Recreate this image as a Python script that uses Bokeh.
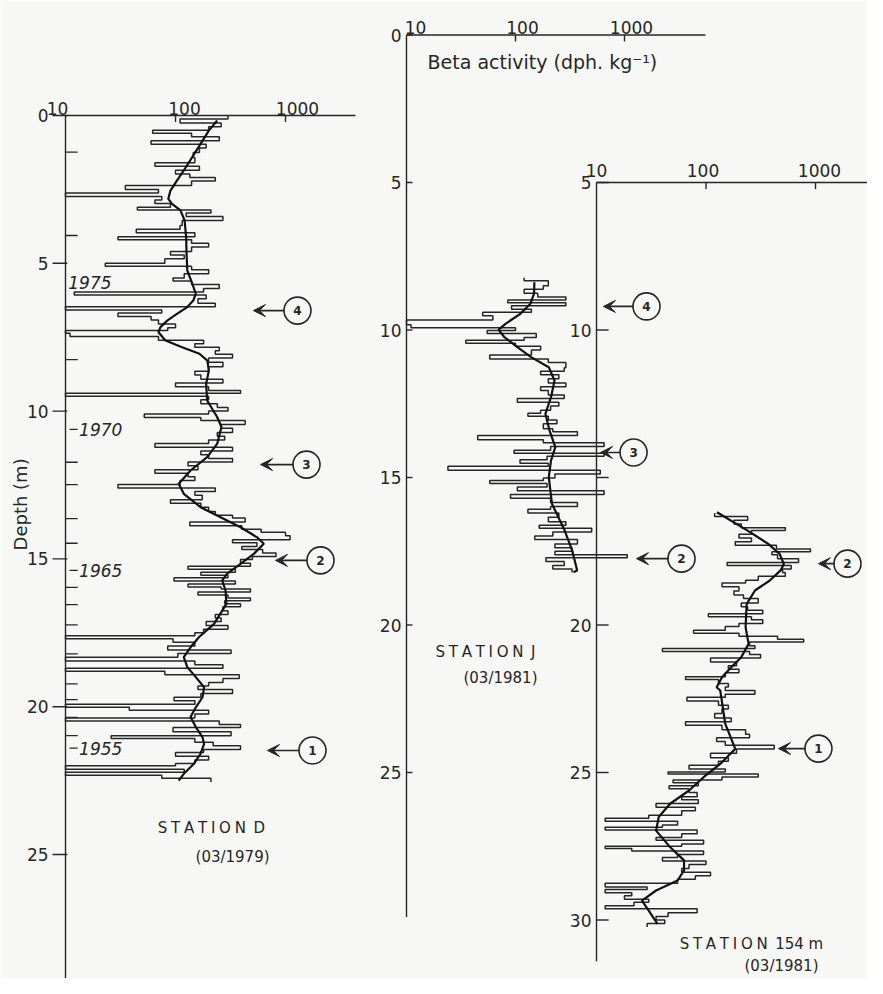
import numpy as np
from bokeh.plotting import figure
from bokeh.models import Range1d, LogScale, LinearScale, ColumnDataSource, Arrow, VeeHead
from bokeh.core.properties import value
from bokeh.embed import file_html
from bokeh.resources import INLINE

# ---------------- data ----------------
# Station D (03/1979): sample top depth (m) and beta activity (dph/kg)
d_top = [0.00, 0.12, 0.25, 0.38, 0.50, 0.60, 0.72, 0.85, 0.97, 1.10, 1.25, 1.42, 1.60, 1.72, 1.85, 1.98,
         2.10, 2.22, 2.37, 2.50, 2.62, 2.74, 2.86, 2.98, 3.10, 3.20, 3.30, 3.42, 3.55, 3.72, 3.85, 3.97,
         4.10, 4.20, 4.32, 4.45, 4.60, 4.72, 4.85, 5.00, 5.10, 5.22, 5.35, 5.50, 5.60, 5.72, 5.85, 5.97,
         6.07, 6.20, 6.35, 6.47, 6.58, 6.68, 6.80, 6.92, 7.05, 7.18, 7.27, 7.37, 7.48, 7.60, 7.72, 7.84,
         7.96, 8.08, 8.20, 8.35, 8.50, 8.65, 8.78, 8.92, 9.05, 9.18, 9.30, 9.40, 9.50, 9.62, 9.75, 9.88,
         10.00, 10.10, 10.22, 10.32, 10.45, 10.58, 10.72, 10.85, 10.98, 11.10, 11.22, 11.35, 11.48, 11.60,
         11.72, 11.85, 11.98, 12.10, 12.22, 12.35, 12.48, 12.60, 12.72, 12.85, 13.00, 13.12, 13.25, 13.40,
         13.52, 13.62, 13.75, 13.88, 14.00, 14.10, 14.22, 14.35, 14.45, 14.58, 14.68, 14.80, 14.92, 15.02,
         15.15, 15.25, 15.35, 15.45, 15.55, 15.64, 15.75, 15.85, 15.95, 16.02, 16.12, 16.22, 16.32, 16.42,
         16.52, 16.62, 16.75, 16.88, 17.00, 17.12, 17.25, 17.38, 17.50, 17.60, 17.70, 17.82, 17.95, 18.08,
         18.20, 18.33, 18.45, 18.58, 18.70, 18.80, 18.92, 19.05, 19.18, 19.30, 19.42, 19.55, 19.68, 19.80,
         19.92, 20.02, 20.12, 20.25, 20.38, 20.48, 20.60, 20.70, 20.85, 20.98, 21.08, 21.20, 21.32, 21.45,
         21.55, 21.68, 21.80, 21.92, 22.00, 22.12, 22.22, 22.32, 22.42]
d_beta = [300, 110, 260, 200, 62, 140, 250, 60, 190, 165, 145, 150, 65, 165, 100, 135,
          230, 140, 35, 70, 10, 75, 65, 90, 45, 210, 125, 270, 115, 110, 44, 150,
          30, 140, 200, 140, 90, 120, 80, 23, 140, 200, 120, 95, 140, 250, 180, 12,
          190, 160, 230, 10, 75, 30, 60, 70, 100, 85, 10, 11, 70, 180, 150, 250,
          230, 330, 200, 270, 200, 150, 170, 270, 100, 200, 390, 10, 200, 170, 240, 300,
          200, 52, 170, 430, 260, 330, 240, 280, 200, 65, 330, 170, 200, 330,
          130, 160, 65, 130, 150, 110, 30, 230, 150, 175, 90, 170, 200, 230,
          330, 430, 135, 400, 600, 1000, 1100, 330, 550, 400, 620, 820, 500, 390,
          480, 130, 350, 170, 300, 97, 350, 130, 260, 480, 160, 300, 480, 280,
          390, 270, 300, 230, 260, 190, 300, 180, 150, 10, 95, 150, 85, 320,
          105, 10, 150, 270, 10, 80, 380, 270, 200, 160, 330, 170, 97, 150,
          10, 38, 200, 150, 10, 250, 390, 95, 320, 26, 150, 220, 390, 180,
          100, 200, 150, 100, 10, 120, 10, 75, 210]
d_bottom = 22.55
d_fit_depth = [0.17, 0.51, 0.96, 1.41, 1.86, 2.20, 2.54, 2.82, 2.99, 3.21, 3.55, 4.12, 4.68, 5.24, 5.69,
               6.03, 6.26, 6.48, 6.71, 6.94, 7.16, 7.33, 7.61, 7.84, 8.06, 8.29, 8.63, 9.08, 9.64, 10.20,
               10.54, 11.11, 11.56, 12.01, 12.46, 12.80, 13.25, 13.59, 13.93, 14.27, 14.49, 14.83, 15.17,
               15.50, 15.73, 16.07, 16.52, 16.75, 17.20, 17.65, 17.99, 18.32, 18.66, 19.00, 19.34, 19.68,
               20.02, 20.35, 20.69, 21.03, 21.26, 21.59, 21.93, 22.27, 22.50]
d_fit_beta = [239, 201, 169, 142, 119, 103, 90, 86, 93, 111, 121, 125, 126, 128, 142,
              153, 145, 128, 103, 84, 73, 70, 81, 115, 165, 195, 201, 190, 194, 239,
              262, 239, 194, 137, 107, 119, 169, 257, 390, 552, 635, 515, 390,
              295, 266, 285, 290, 266, 224, 163, 137, 119, 128, 153, 182, 176,
              153, 137, 153, 176, 182, 169, 147, 119, 107]

# Station J (03/1981)
j_top = [8.23, 8.33, 8.50, 8.62, 8.75, 8.88, 8.98, 9.08, 9.18, 9.30, 9.40, 9.52, 9.66, 9.82, 9.92,
         10.02, 10.12, 10.25, 10.35, 10.45, 10.55, 10.68, 10.85, 10.98, 11.10, 11.28, 11.40, 11.52,
         11.65, 11.80, 11.92, 12.05, 12.20, 12.32, 12.45, 12.58, 12.72, 12.82, 12.92, 13.05, 13.18,
         13.35, 13.45, 13.58, 13.72, 13.82, 13.95, 14.08, 14.18, 14.28, 14.40, 14.52, 14.62, 14.75,
         14.88, 15.02, 15.10, 15.20, 15.32, 15.45, 15.58, 15.70, 15.85, 15.98, 16.08, 16.20, 16.35,
         16.50, 16.62, 16.72, 16.85, 16.98, 17.10, 17.25, 17.38, 17.50, 17.62, 17.72, 17.85, 17.98, 18.10]
j_beta = [120, 200, 180, 120, 160, 290, 85, 290, 92, 140, 50, 62, 10, 11, 100,
          55, 155, 120, 35, 100, 170, 140, 58, 200, 290, 280, 170, 250,
          200, 290, 170, 200, 280, 104, 250, 210, 170, 130, 200, 240, 180,
          220, 370, 45, 180, 650, 210, 97, 650, 195, 110, 200, 24, 600,
          230, 180, 58, 195, 104, 650, 90, 210, 370, 210, 130, 250, 200,
          290, 165, 500, 220, 150, 370, 230, 330, 230, 1060, 190, 280, 220, 330]
j_bottom = 18.22
j_fit_depth = [8.38, 8.77, 9.11, 9.45, 9.79, 9.99, 10.24, 10.58, 10.92, 11.26, 11.71, 12.27, 12.84,
               13.40, 13.97, 14.42, 14.99, 15.89, 16.79, 17.47, 18.15, 18.21]
j_fit_beta = [149, 148, 137, 111, 81, 70, 79, 104, 139, 202, 228, 212, 188,
              205, 232, 212, 202, 216, 282, 331, 368, 340]

# Station 154 m (03/1981)
s_top = [16.20, 16.32, 16.45, 16.58, 16.70, 16.80, 16.92, 17.05, 17.18, 17.30, 17.42, 17.52, 17.62,
         17.75, 17.88, 17.98, 18.10, 18.22, 18.35, 18.48, 18.58, 18.70, 18.85, 18.98, 19.10, 19.25,
         19.38, 19.50, 19.62, 19.72, 19.82, 19.95, 20.05, 20.18, 20.28, 20.38, 20.48, 20.58, 20.70,
         20.80, 20.90, 21.00, 21.12, 21.25, 21.38, 21.50, 21.62, 21.75, 21.85, 21.98, 22.10, 22.22,
         22.35, 22.45, 22.58, 22.72, 22.85, 23.00, 23.15, 23.28, 23.40, 23.55, 23.70, 23.82, 23.95,
         24.08, 24.20, 24.35, 24.50, 24.62, 24.75, 24.88, 24.98, 25.05, 25.15, 25.25, 25.35, 25.45,
         25.55, 25.68, 25.82, 25.92, 26.05, 26.18, 26.30, 26.45, 26.55, 26.65, 26.78, 26.86, 26.95,
         27.08, 27.20, 27.30, 27.42, 27.50, 27.58, 27.66, 27.78, 27.88, 28.00, 28.12, 28.25, 28.38,
         28.50, 28.62, 28.75, 28.88, 28.97, 29.08, 29.18, 29.30, 29.40, 29.52, 29.62, 29.75, 29.88,
         30.00, 30.12]
s_beta = [120, 240, 180, 210, 530, 260, 200, 260, 185, 440, 900, 400, 450,
          700, 156, 600, 500, 530, 300, 230, 140, 200, 180, 220, 300, 210,
          240, 330, 105, 260, 330, 200, 150, 77, 200, 450, 780, 250, 280,
          40, 250, 315, 110, 190, 160, 200, 150, 65, 130, 160, 150, 280,
          150, 67, 130, 160, 140, 120, 170, 65, 140, 230, 250, 125, 150,
          420, 190, 110, 160, 130, 70, 150, 45, 300, 140, 50, 85, 46,
          70, 83, 60, 85, 35, 80, 60, 30, 12, 55, 40, 12, 83,
          60, 35, 95, 60, 12, 21, 95, 55, 40, 100, 70, 60, 110,
          80, 55, 12, 29, 12, 21, 18, 30, 22, 12, 83, 45, 35,
          42, 29]
s_bottom = 30.24
s_fit_depth = [16.18, 16.80, 17.25, 17.59, 17.93, 18.15, 18.50, 18.83, 19.29, 20.08, 20.64, 21.09,
               21.43, 21.77, 22.11, 22.22, 23.35, 24.20, 24.71, 25.16, 25.61, 26.06, 26.51, 26.97,
               27.53, 27.98, 28.32, 28.66, 29.00, 29.34, 29.68, 30.13]
s_fit_beta = [126, 240, 370, 470, 514, 480, 380, 280, 235, 230, 245, 210,
              170, 140, 125, 135, 150, 185, 135, 95, 70, 47, 37, 35,
              47, 63, 63, 55, 35, 26, 30, 36]

# axes / labels
x_ticks = [10, 100, 1000]
x_tick_labels = ["10", "100", "1000"]
d_depth_ticks = [0, 5, 10, 15, 20, 25]
j_depth_ticks = [0, 5, 10, 15, 20, 25]
s_depth_ticks = [5, 10, 15, 20, 25, 30]
s_depth_labels = ["5", "10", "", "20", "25", "30"]
d_year_marks = [1.24, 4.06, 8.26, 11.73, 12.49, 13.64, 14.47, 15.96, 16.55, 17.23, 18.21, 19.23,
                19.76, 20.36, 20.98]
d_years = ["1975", "1970", "1965", "1955"]
d_year_depths = [5.65, 10.62, 15.39, 21.40]

# event markers (number, depth, arrow tip value, arrow start value, circle value)
d_ev = dict(n=["4", "3", "2", "1"], y=[6.60, 11.81, 15.05, 21.48],
            tip=[511, 593, 811, 686], start=[979, 1182, 1585, 1341], c=[1285, 1552, 2080, 1759])
j_ev = dict(n=["4", "3", "2"], y=[9.20, 14.15, 17.75],
            tip=[641, 603, 1288], start=[1211, 918, 2536], c=[1592, 1211, 3334])
s_ev = dict(n=["2", "1"], y=[17.92, 24.19],
            tip=[1064, 459], start=[1492, 811], c=[1959, 1064])

INK = "#262626"
BG = "#f7f8f6"
FONT = "DejaVu Sans"

p = figure(width=867, height=978, output_backend="svg", toolbar_location=None,
           x_axis_type="log", x_axis_location=None, y_axis_location=None,
           x_range=Range1d(10 ** 0.40909, 10 ** 8.2909),
           y_range=Range1d(29.195, -3.8904), min_border=0)
p.extra_x_ranges = {"J": Range1d(10 ** -2.7248, 10 ** 5.2294),
                    "S": Range1d(10 ** -4.4429, 10 ** 3.4749)}
p.extra_x_scales = {"J": LogScale(), "S": LogScale()}
p.extra_y_ranges = {"JS": Range1d(31.983, -1.1695)}
p.extra_y_scales = {"JS": LinearScale()}
p.outline_line_color = None
p.background_fill_color = BG
p.border_fill_color = BG
p.grid.visible = False


def step_path(tops, vals, bottom):
    bounds = list(tops) + [bottom]
    xs, ys = [], []
    for i, v in enumerate(vals):
        xs += [v, v]
        ys += [bounds[i], bounds[i + 1]]
    return xs, ys


def panel(xr, yr, tops, vals, bottom, fit_d, fit_v, depth_ticks, depth_labels,
          axis_top, axis_bottom, x_end, ev, tick_in, lab_dx, top_lab_dy, top_lab_dx,
          left_tick):
    kw = {}
    if xr:
        kw["x_range_name"] = xr
    if yr:
        kw["y_range_name"] = yr
    # axes
    p.segment(x0=[10], y0=[axis_top], x1=[x_end], y1=[axis_top], line_color=INK, line_width=1.4, **kw)
    p.segment(x0=[10], y0=[axis_top], x1=[10], y1=[axis_bottom], line_color=INK, line_width=1.4, **kw)
    p.segment(x0=x_ticks[1:], y0=[axis_top] * 2, x1=x_ticks[1:], y1=[axis_top + 0.22] * 2,
              line_color=INK, line_width=1.4, **kw)
    tsrc = ColumnDataSource(dict(x=x_ticks, y=[axis_top] * 3, t=x_tick_labels, dx=top_lab_dx))
    p.text(x="x", y="y", text="t", source=tsrc, text_align="center",
           text_baseline="alphabetic", y_offset=top_lab_dy, x_offset="dx",
           text_font=value(FONT), text_font_size="17px", text_color=INK, **kw)
    p.segment(x0=[left_tick] * len(depth_ticks), y0=depth_ticks, x1=[tick_in] * len(depth_ticks),
              y1=depth_ticks, line_color=INK, line_width=1.4, **kw)
    p.text(x=[left_tick] * len(depth_ticks), y=depth_ticks, text=depth_labels, text_align="right",
           text_baseline="middle", x_offset=lab_dx, text_font=value(FONT), text_font_size="17px",
           text_color=INK, **kw)
    # profile
    xs, ys = step_path(tops, vals, bottom)
    p.line(xs, ys, line_color=INK, line_width=1.5, **kw)
    p.line(fit_v, fit_d, line_color="#111111", line_width=2.2, **kw)
    # events
    src = ColumnDataSource(ev)
    arr = Arrow(end=VeeHead(size=12, line_color=INK, fill_color=INK, line_width=1),
                x_start="start", y_start="y", x_end="tip", y_end="y", source=src,
                line_color=INK, line_width=1.6, **kw)
    p.add_layout(arr)
    p.scatter(x="c", y="y", source=src, marker="circle", size=27, fill_color=BG,
              line_color=INK, line_width=1.6, **kw)
    p.text(x="c", y="y", text="n", source=src, text_align="center", text_baseline="middle",
           text_font=value(FONT), text_font_style="bold", text_font_size="12px",
           text_color=INK, **kw)


panel(None, None, d_top, d_beta, d_bottom, d_fit_depth, d_fit_beta, d_depth_ticks,
      [str(t) for t in d_depth_ticks], 0, 29.8, 4330, d_ev, 10.4, -4, -7, [-8, 9, 12], 7.62)
panel("J", "JS", j_top, j_beta, j_bottom, j_fit_depth, j_fit_beta, j_depth_ticks,
      [str(t) for t in j_depth_ticks], 0, 29.9, 5530, j_ev, 11.35, -5, -8, [9, 7, 7], 10)
panel("S", "JS", s_top, s_beta, s_bottom, s_fit_depth, s_fit_beta, s_depth_ticks,
      s_depth_labels, 5, 31.4, 4180, s_ev, 12.9, -5, -12, [0, -3, 4], 10)

# Station D annual marks and years
p.segment(x0=[10] * len(d_year_marks), y0=d_year_marks, x1=[12.9] * len(d_year_marks),
          y1=d_year_marks, line_color=INK, line_width=1.3)
p.segment(x0=[10.9] * 3, y0=d_year_depths[1:], x1=[12.9] * 3, y1=d_year_depths[1:],
          line_color=INK, line_width=1.3)
p.text(x=[10.6, 13.3, 13.3, 13.3], y=d_year_depths, text=d_years, text_align="left",
       text_baseline="middle", text_font=value(FONT), text_font_style="italic",
       text_font_size="17px", text_color=INK)

# titles
p.text(x=[15.6], y=[0.9], text=["Beta  activity (dph. kg\u207b\u00b9)"], x_range_name="J",
       y_range_name="JS", text_align="left", text_baseline="middle", text_font=value(FONT),
       text_font_size="19px", text_color=INK)
p.text(x=[3.9], y=[13.06], text=["Depth  (m)"], angle=np.pi / 2, text_align="center",
       text_baseline="middle", text_font=value(FONT), text_font_size="18px", text_color=INK)

sp = "\u2005"
p.text(x=[212, 330], y=[24.12, 25.07], text=[sp.join("STATION") + "\u2002D", "(03/1979)"],
       text_align="center", text_baseline="middle", text_font=value(FONT),
       text_font_size="15px", text_color=INK)
p.text(x=[53, 72.8], y=[20.9, 21.81], text=[sp.join("STATION") + "\u2002J", "(03/1981)"],
       x_range_name="J", y_range_name="JS", text_align="center", text_baseline="middle",
       text_font=value(FONT), text_font_size="15px", text_color=INK)
p.text(x=[260, 489], y=[30.80, 31.55], text=[sp.join("STATION") + "\u2002154 m", "(03/1981)"],
       x_range_name="S", y_range_name="JS", text_align="center", text_baseline="middle",
       text_font=value(FONT), text_font_size="15px", text_color=INK)

open("out.html", "w").write(file_html(p, INLINE))
